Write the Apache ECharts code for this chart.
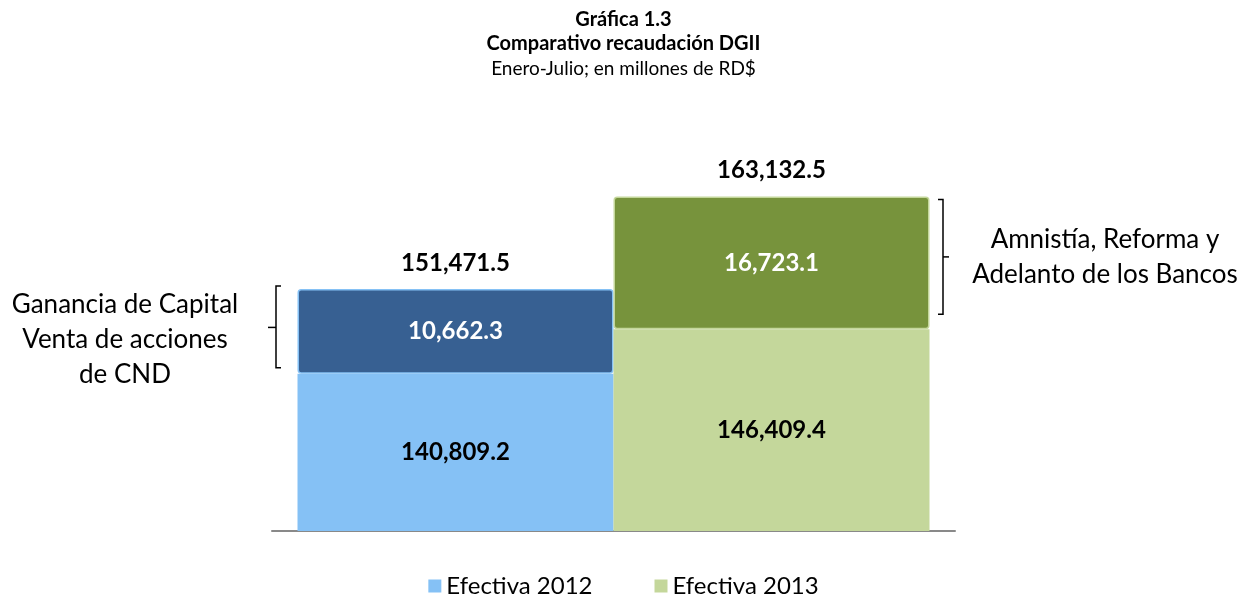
<!DOCTYPE html>
<html>
<head>
<meta charset="utf-8">
<script src="https://cdn.jsdelivr.net/npm/echarts@6/dist/echarts.min.js"></script>
<style>
  html, body { margin: 0; padding: 0; background: #fff; }
  #chart { width: 1247px; height: 597px; }
</style>
</head>
<body>
<div id="chart"></div>
<script>
// datos (millones de RD$)
const years = ['Efectiva 2012', 'Efectiva 2013']
const baseValues = [140809.2, 146409.4]
const extraValues = [10662.3, 16723.1]
const extraNames = ['Ganancia de Capital Venta de acciones de CND', 'Amnistía, Reforma y Adelanto de los Bancos']
const category = ['Enero-Julio']

const lightColors = ['#85c1f5', '#c4d79b']
const darkColors = ['#376092', '#77933c']
const font = 'Lato, "Open Sans", sans-serif'

const fmt = v => v.toLocaleString('en-US', { minimumFractionDigits: 1, maximumFractionDigits: 1 })

const chart = echarts.init(document.getElementById('chart'))

const valueLabel = (color) => ({
  show: true,
  position: 'inside',
  formatter: p => fmt(p.value),
  color: color,
  fontFamily: font,
  fontWeight: 'bold',
  fontSize: 24,
})

const series = []
years.forEach((name, i) => {
  const stack = 's' + i
  series.push({
    name: name,
    type: 'bar',
    stack: stack,
    barWidth: 316,
    barGap: '0%',
    data: [baseValues[i]],
    itemStyle: { color: lightColors[i] },
    label: valueLabel('#000'),
  })
  series.push({
    name: extraNames[i],
    type: 'bar',
    stack: stack,
    barWidth: 316,
    barGap: '0%',
    data: [extraValues[i]],
    itemStyle: { color: darkColors[i], borderColor: lightColors[i], borderWidth: 1.5, borderRadius: 3 },
    label: valueLabel('#fff'),
  })
  // total encima de la barra
  series.push({
    name: 'Total ' + name,
    type: 'bar',
    stack: stack,
    barWidth: 316,
    barGap: '0%',
    data: [0],
    itemStyle: { color: 'transparent' },
    label: {
      ...valueLabel('#000'),
      position: 'top',
      distance: 14,
      formatter: () => fmt(baseValues[i] + extraValues[i]),
    },
  })
})

chart.setOption({
  animation: false,
  title: {
    text: 'Gráfica 1.3\nComparativo recaudación DGII',
    subtext: 'Enero-Julio; en millones de RD$',
    left: 'center',
    top: 3,
    itemGap: 1,
    textStyle: { fontFamily: font, fontSize: 20, fontWeight: 'bold', color: '#000', lineHeight: 24 },
    subtextStyle: { fontFamily: font, fontSize: 19, color: '#000', lineHeight: 24 },
  },
  legend: {
    data: years,
    top: 569,
    icon: 'rect',
    itemWidth: 13,
    itemHeight: 13,
    itemGap: 62,
    textStyle: { fontFamily: font, fontSize: 24, color: '#000' },
  },
  grid: { left: 272, right: 292, top: 142, bottom: 66 },
  xAxis: {
    type: 'category',
    data: category,
    axisLine: { lineStyle: { color: '#898989', width: 2 } },
    axisTick: { show: false },
    axisLabel: { show: false },
  },
  yAxis: {
    type: 'value',
    min: 121000,
    max: 170000,
    show: false,
    splitLine: { show: false },
  },
  series: series,
})

// corchetes y notas
const toY = v => chart.convertToPixel({ yAxisIndex: 0 }, v)
const bracketStyle = { stroke: '#000', lineWidth: 1.5, fill: null }
const noteStyle = { align: 'center', verticalAlign: 'middle', fontFamily: font, fontSize: 26, lineHeight: 35, fill: '#000' }
const graphics = []

const l0 = toY(baseValues[0]), l1 = toY(baseValues[0] + extraValues[0]), lm = (l0 + l1) / 2
graphics.push({ type: 'polyline', shape: { points: [[281, l1 - 3], [276, l1 - 3], [276, l0 - 6], [281, l0 - 6]] }, style: bracketStyle })
graphics.push({ type: 'line', shape: { x1: 276, y1: lm - 4, x2: 268, y2: lm - 4 }, style: bracketStyle })
graphics.push({
  type: 'text', x: 125, y: lm + 8,
  style: { ...noteStyle, text: 'Ganancia de Capital\nVenta de acciones\nde CND' },
})

const r0 = toY(baseValues[1]), r1 = toY(baseValues[1] + extraValues[1]), rm = (r0 + r1) / 2
graphics.push({ type: 'polyline', shape: { points: [[938, r1 + 3], [943, r1 + 3], [943, r0 - 15], [938, r0 - 15]] }, style: bracketStyle })
graphics.push({ type: 'line', shape: { x1: 943, y1: rm - 6, x2: 949, y2: rm - 6 }, style: bracketStyle })
graphics.push({
  type: 'text', x: 1105, y: rm - 6,
  style: { ...noteStyle, text: 'Amnistía, Reforma y\nAdelanto de los Bancos' },
})

chart.setOption({ graphic: graphics })

window.addEventListener('resize', () => chart.resize())
</script>
</body>
</html>
